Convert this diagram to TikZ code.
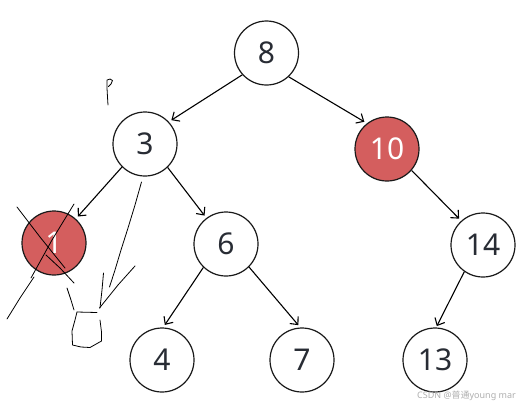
\documentclass[tikz,border=0pt]{standalone}
\usepackage{fontspec}
\setmainfont{Noto Sans}
\newfontfamily\cjk{Noto Sans CJK SC}
\usetikzlibrary{arrows.meta}
\definecolor{nodered}{RGB}{212,94,94}
\definecolor{numgray}{RGB}{40,44,52}
\definecolor{wmgray}{RGB}{175,175,175}
\tikzset{
  tn/.style={circle, draw=black!90, line width=1.2pt, minimum size=64pt, inner sep=0pt,
    font=\fontsize{30}{30}\selectfont, text=numgray, fill=white},
  rn/.style={tn, fill=nodered, text=white},
  edge/.style={line width=1.1pt, -{Straight Barb[length=6pt,width=11pt,line width=1.1pt]}, shorten >=3pt},
  scrib/.style={line width=0.8pt, black, line cap=round, line join=round},
}
\begin{document}
\begin{tikzpicture}[x=1pt,y=-1pt]
\useasboundingbox (0,0) rectangle (521,408);
\node[tn] (n8) at (266.5,53) {8};
\node[tn] (n3) at (145,144) {3};
\node[rn] (n10) at (387,149) {10};
\node[rn] (n1) at (54,243) {1};
\node[tn] (n6) at (226,244) {6};
\node[tn] (n14) at (483,245) {14};
\node[tn] (n4) at (162,360) {4};
\node[tn] (n7) at (302,360) {7};
\node[tn] (n13) at (435,360) {13};
\draw[edge] (n8.222) -- (n3.43);
\draw[edge] (n8.313) -- (n10.128);
\draw[edge] (n3.225) -- (n1.48);
\draw[edge] (n3.314) -- (n6.127);
\draw[edge] (n10.319) -- (n14.132);
\draw[edge] (n6.226) -- (n4.88);
\draw[edge] (n6.315) -- (n7.93);
\draw[edge, shorten >=1.5pt] (n14.235) -- (n13.88);
% handwritten scribbles
\draw[scrib] (108,105) -- (107.5,97) -- (107,88) -- (107,80) -- (110,79) -- (112.5,80.5) -- (111,84) -- (108.5,86.5);
\draw[scrib] (17,207) -- (40,237) -- (65,268);
\draw[scrib] (46,255) -- (60,268) -- (74,283);
\draw[scrib] (74,204) -- (52,240) -- (31,278);
\draw[scrib] (34,277) -- (20,298) -- (7,319);
\draw[scrib] (67,288) -- (71,300) -- (74,310);
\draw[scrib] (77,312) -- (97,312.5);
\draw[scrib] (100,320) -- (101.5,332) -- (101.5,341) -- (90,347.5) -- (81,347) -- (72.5,345) -- (72,331) -- (75,320) -- (77,312);
\draw[scrib] (141.5,182) -- (135,205) -- (128,228) -- (121,250) -- (115,270) -- (109.5,287);
\draw[scrib] (103.5,273) -- (102,290) -- (100,308);
\draw[scrib] (135,266) -- (118,285) -- (99.5,308);
\node[font=\fontsize{9}{9}\selectfont, text=wmgray, anchor=east, inner sep=0pt] (wm) at (516,396) {CSDN @{\cjk 普通}young mar};
\end{tikzpicture}
\end{document}
